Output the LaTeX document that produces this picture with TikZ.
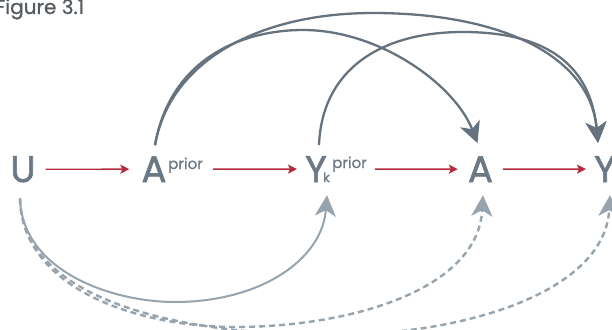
\documentclass[tikz,border=0pt]{standalone}
\usepackage{fontspec}
\setmainfont{Poppins}
\newfontfamily\letterfont{Poppins}[FakeBold=1.6]
\newfontfamily\smallfont{Poppins}[FakeBold=0.8]
\usetikzlibrary{arrows.meta}
\definecolor{lettc}{HTML}{6B7985}
\definecolor{topc}{HTML}{66737E}
\definecolor{botc}{HTML}{97A3AD}
\definecolor{redc}{HTML}{B52A3C}
\definecolor{figc}{HTML}{555B60}
\begin{document}
\begin{tikzpicture}[x=1pt,y=-1pt,
  letter/.style={inner sep=0pt, anchor=base, text=lettc, font=\letterfont\fontsize{37}{37}\selectfont},
  supr/.style={inner sep=0pt, anchor=base west, text=lettc, font=\smallfont\fontsize{15}{15}\selectfont},
  subk/.style={inner sep=0pt, anchor=base west, text=lettc, font=\smallfont\fontsize{13}{13}\selectfont},
  redarr/.style={draw=redc, line width=1.4pt, -{Stealth[length=9pt,width=9pt,inset=2pt]}},
  toparc/.style={draw=topc, line width=2.3pt, -{Stealth[length=21pt,width=21pt,inset=6pt]}},
  botarc/.style={draw=botc, line width=2pt, -{Stealth[length=21pt,width=21pt,inset=6pt]}},
  botdash/.style={draw=botc, line width=2.4pt, dash pattern=on 6pt off 4pt, -{Stealth[length=21pt,width=21pt,inset=6pt]}}
]
\useasboundingbox (0,0) rectangle (612,329);
\node[anchor=base west, inner sep=0pt, text=figc, font=\smallfont\fontsize{20}{20}\selectfont] (fig) at (-5,14) {Figure 3.1};

\node[letter] (U) at (23,182) {U};
\node[letter] (Ap) at (154,182) {A};
\node[supr] (Apsup) at (168,169) {prior};
\node[letter] (Yp) at (316,182) {Y};
\node[subk] (Ypsub) at (323,182) {k};
\node[supr] (Ypsup) at (332,168) {prior};
\node[letter] (A) at (480.5,182) {A};
\node[letter] (Y) at (605,182) {Y};
\node[subk] (Ysub) at (612,182) {k};

% red arrows
\draw[redarr] ([xshift=10pt]U.east) -- ([xshift=-12pt]Ap.west);
\draw[redarr] ([xshift=10pt]Apsup.east |- Ap.east) -- ([xshift=-8pt]Yp.west);
\draw[redarr] ([xshift=8pt]Ypsup.east |- Yp.east) -- ([xshift=-10pt]A.west);
\draw[redarr] ([xshift=10pt]A.east) -- ([xshift=-8pt]Y.west);

% top arcs
\coordinate (s1) at ([xshift=1pt,yshift=11pt]Ap.north);
\coordinate (s2) at ([xshift=3pt,yshift=11pt]Yp.north);
\coordinate (tA) at ([xshift=-3pt,yshift=13pt]A.north);
\coordinate (tY) at ([xshift=-7pt,yshift=13pt]Y.north);
\draw[toparc] (s1) .. controls (170,60) and (240,30) .. (303,30) .. controls (380,30) and (455,85) .. (tA);
\draw[toparc] (s1) .. controls (170,60) and (260,13) .. (373,13) .. controls (500,13) and (590,55) .. (tY);
\draw[toparc] (s2) .. controls (322,70) and (380,32) .. (463,32) .. controls (540,32) and (590,60) .. (tY);

% bottom arcs
\coordinate (u0) at ([xshift=-3pt,yshift=-16pt]U.south);
\coordinate (bYp) at ([xshift=11pt,yshift=-13pt]Yp.south);
\coordinate (bA) at ([xshift=2.5pt,yshift=-13pt]A.south);
\coordinate (bY) at ([xshift=5pt,yshift=-13pt]Y.south);
\draw[botarc] (u0) .. controls (22,270) and (110,302) .. (175,302) .. controls (260,302) and (322,260) .. (bYp);
\draw[botdash] (u0) .. controls (22,290) and (140,327) .. (235,327) .. controls (350,327) and (478,290) .. (bA);
\draw[botdash] (u0) .. controls (22,300) and (180,335) .. (330,335) .. controls (470,335) and (605,290) .. (bY);
\end{tikzpicture}
\end{document}
